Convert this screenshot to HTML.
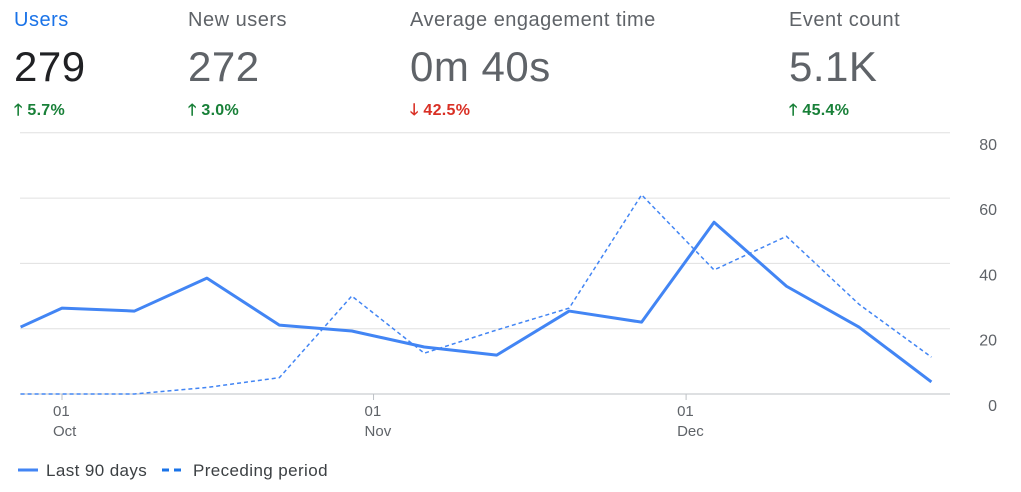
<!DOCTYPE html>
<html><head><meta charset="utf-8"><style>
body{margin:0;width:1021px;height:492px;background:#fff;font-family:"Liberation Sans",sans-serif;overflow:hidden;position:relative}
.card{position:absolute;top:0}
.lbl{position:absolute;top:9px;font-size:20px;color:#5f6368;white-space:nowrap;letter-spacing:0.5px}
.val{position:absolute;top:43px;font-size:42px;color:#5f6368;white-space:nowrap;letter-spacing:0.5px}
.chg{position:absolute;top:99px;font-size:16px;font-weight:bold;white-space:nowrap;letter-spacing:0.3px}
.up{color:#188038}.dn{color:#d93025}
</style></head><body>
<div class="card" style="left:14px">
<div class="lbl" style="color:#1a73e8">Users</div>
<div class="val" style="color:#202124">279</div>
<div class="chg up">🡑 5.7%</div></div>
<div class="card" style="left:188px">
<div class="lbl">New users</div>
<div class="val">272</div>
<div class="chg up">🡑 3.0%</div></div>
<div class="card" style="left:410px">
<div class="lbl">Average engagement time</div>
<div class="val">0m 40s</div>
<div class="chg dn">🡓 42.5%</div></div>
<div class="card" style="left:789px">
<div class="lbl">Event count</div>
<div class="val">5.1K</div>
<div class="chg up">🡑 45.4%</div></div>
<svg id="chart" width="1021" height="492" style="position:absolute;left:0;top:0"></svg>
<script>
const days=[-4,0,7,14,21,28,35,42,49,56,63,70,77,84];
const current=[20.5,26.3,25.4,35.5,21.1,19.3,14.4,11.9,25.4,22,52.6,33,20.5,3.7];
const preceding=[0,0,0,2,5,30,12.5,19.6,26.3,61,38,48.3,27.5,11.3];
const yTicks=[0,20,40,60,80];
const xTickDays=[0,30.1,60.3];
const xTickDay=["01","01","01"];
const xTickMonth=["Oct","Nov","Dec"];
const svg=document.getElementById('chart');const NS='http://www.w3.org/2000/svg';
const X=d=>62+d*10.35, Y=v=>394-v*3.265;
function mk(t,a){const e=document.createElementNS(NS,t);for(const k in a)e.setAttribute(k,a[k]);svg.appendChild(e);return e;}
yTicks.forEach(v=>{
const l=mk('line',{x1:20,x2:950,y1:Y(v),y2:Y(v),stroke:v===0?'#bdc1c6':'#e0e0e0','stroke-width':1});


const t=mk('text',{x:997,y:Y(v)+17,'text-anchor':'end','font-size':16,fill:'#5f6368'});t.textContent=v;


});
xTickDays.forEach((d,i)=>{
const tk=mk('line',{x1:X(d),x2:X(d),y1:394,y2:400,stroke:'#bdc1c6'});


const t=mk('text',{x:X(d)-9,y:416,'font-size':15,fill:'#5f6368'});t.textContent=xTickDay[i];


const m=mk('text',{x:X(d)-9,y:436,'font-size':15,fill:'#5f6368'});m.textContent=xTickMonth[i];


});
const p2=mk('polyline',{points:days.map((d,i)=>X(d)+','+Y(preceding[i])).join(' '),fill:'none',stroke:'#4285f4','stroke-width':1.5,'stroke-dasharray':'4,3'});


const p1=mk('polyline',{points:days.map((d,i)=>X(d)+','+Y(current[i])).join(' '),fill:'none',stroke:'#4285f4','stroke-width':3,'stroke-linejoin':'round'});


const g1=mk('line',{x1:18,x2:38,y1:470,y2:470,stroke:'#4285f4','stroke-width':3});


const t1=mk('text',{x:46,y:476,'font-size':17,'letter-spacing':0.4,fill:'#3c4043'});t1.textContent='Last 90 days';


const g2=mk('line',{x1:162,x2:186,y1:470,y2:470,stroke:'#1a73e8','stroke-width':3,'stroke-dasharray':'7,5'});


const t2=mk('text',{x:193,y:476,'font-size':17,'letter-spacing':0.4,fill:'#3c4043'});t2.textContent='Preceding period';


</script>
</body></html>
